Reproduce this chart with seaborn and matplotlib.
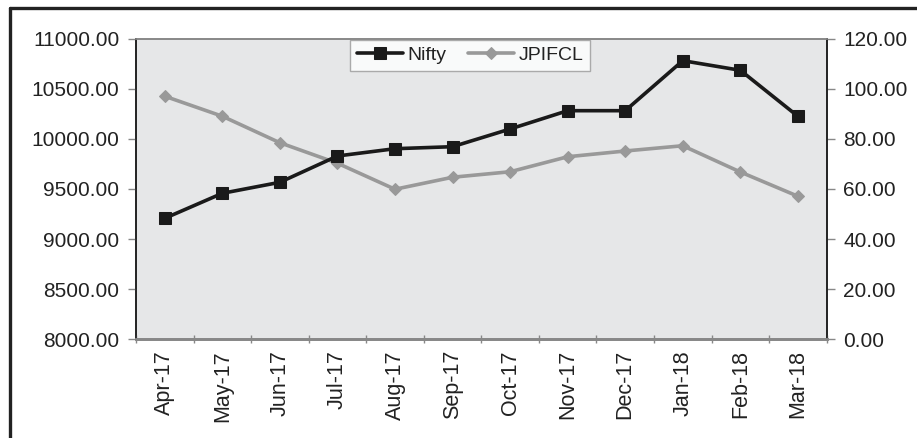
import matplotlib
matplotlib.use("Agg")
import matplotlib.pyplot as plt
import seaborn as sns
import pandas as pd
import numpy as np
from matplotlib.lines import Line2D
from matplotlib.ticker import FixedLocator, FormatStrFormatter

months = ["Apr-17", "May-17", "Jun-17", "Jul-17", "Aug-17", "Sep-17",
          "Oct-17", "Nov-17", "Dec-17", "Jan-18", "Feb-18", "Mar-18"]
nifty = [9207, 9457, 9567, 9830, 9903, 9923, 10100, 10283, 10283, 10783, 10687, 10227]
jpifcl = [97.1, 89.1, 78.5, 70.3, 59.9, 64.7, 66.9, 72.9, 75.2, 77.3, 66.8, 57.1]

df = pd.DataFrame({"Month": months, "x": np.arange(len(months)),
                   "Nifty": nifty, "JPIFCL": jpifcl})

sns.set_style("white")
plt.rcParams["font.family"] = ["Liberation Sans", "DejaVu Sans"]

fig = plt.figure(figsize=(9.17, 4.38), dpi=100)
ax = fig.add_axes([0.1483, 0.226, 0.7532, 0.685])
ax2 = ax.twinx()

# draw order: right axis (with background) below, left axis (Nifty) on top
ax2.set_zorder(1)
ax.set_zorder(2)
ax.patch.set_visible(False)
ax2.patch.set_visible(True)
ax2.patch.set_facecolor("#e6e7e8")

sns.lineplot(data=df, x="x", y="JPIFCL", ax=ax2, color="#999999", linewidth=2.6,
             marker="D", markersize=6.5, markeredgecolor="#999999", label="JPIFCL", legend=False)
sns.lineplot(data=df, x="x", y="Nifty", ax=ax, color="#1a1a1a", linewidth=2.6,
             marker="s", markersize=8.5, markeredgecolor="#1a1a1a", label="Nifty", legend=False)

ax.set_xlim(-0.5, 11.5)
ax.set_ylim(8000, 11000)
ax2.set_ylim(0, 120)
ax.set_yticks(np.arange(8000, 11001, 500))
ax2.set_yticks(np.arange(0, 121, 20))
ax.yaxis.set_major_formatter(FormatStrFormatter("%.2f"))
ax2.yaxis.set_major_formatter(FormatStrFormatter("%.2f"))

ax.set_xticks(np.arange(len(months)))
ax.set_xticklabels(months, rotation=90)
ax.xaxis.set_minor_locator(FixedLocator(np.arange(-0.5, 12, 1)))
ax.tick_params(axis="x", which="major", length=0, pad=8, labelsize=15.5, labelcolor="#222222")
ax.tick_params(axis="x", which="minor", length=6, width=1, color="#888888", direction="inout", bottom=True)
ax.tick_params(axis="y", which="major", length=6, width=1, color="#888888", direction="out",
               left=True, labelsize=15, labelcolor="#222222", pad=6)
ax2.tick_params(axis="y", which="major", length=6, width=1, color="#888888", direction="out",
                right=True, labelsize=15, labelcolor="#222222", pad=6)

ax.set_xlabel("")
ax.set_ylabel("")
ax2.set_ylabel("")
ax2.set_xlabel("")

for a in (ax, ax2):
    a.spines["top"].set_color("#888888")
    a.spines["top"].set_linewidth(1.2)
    a.spines["bottom"].set_color("#888888")
    a.spines["bottom"].set_linewidth(2)
    a.spines["left"].set_color("#222222")
    a.spines["left"].set_linewidth(1.2)
    a.spines["right"].set_color("#222222")
    a.spines["right"].set_linewidth(1.2)

h1, l1 = ax.get_legend_handles_labels()
h2, l2 = ax2.get_legend_handles_labels()
leg = fig.legend(h1 + h2, l1 + l2, loc="upper center", bbox_to_anchor=(0.5125, 0.932),
                 ncol=2, frameon=True, fancybox=False, fontsize=14, handlelength=2.4,
                 columnspacing=1.1, handletextpad=0.2, borderpad=0.35)
leg.get_frame().set_edgecolor("#999999")
leg.get_frame().set_linewidth(1.0)
leg.get_frame().set_facecolor("white")
leg.set_zorder(10)
for t in leg.get_texts():
    t.set_color("#222222")

# outer frame lines (top and left)
fig.add_artist(Line2D([0.0114, 1.0], [0.9806, 0.9806], transform=fig.transFigure,
                      color="#222222", linewidth=2.4))
fig.add_artist(Line2D([0.0114, 0.0114], [0.0, 0.9806], transform=fig.transFigure,
                      color="#222222", linewidth=2.4))

fig.savefig("out.png", dpi=100)
